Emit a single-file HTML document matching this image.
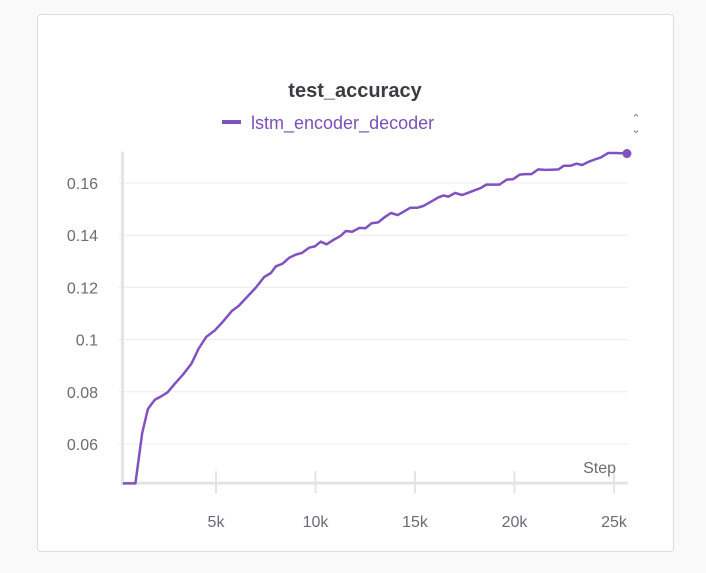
<!DOCTYPE html>
<html><head><meta charset="utf-8"><style>
body{margin:0;background:#f9f9fa;width:706px;height:573px;overflow:hidden;font-family:"Liberation Sans",sans-serif}
#card{position:absolute;left:37px;top:14px;width:635px;height:536px;background:#fff;border:1px solid #dcdce0;border-radius:4px}
svg{position:absolute;left:0;top:0}
</style></head><body>
<div id="card"></div>
<svg id="chart" width="706" height="573">
<text x="355" y="97" text-anchor="middle" font-size="20" font-weight="bold" fill="#3b3b42">test_accuracy</text>
<g>
<line x1="222" y1="122" x2="241" y2="122" stroke="#8052c0" stroke-width="4"/>
<text x="251" y="129" font-size="18" fill="#7e4fb8">lstm_encoder_decoder</text>
</g>
<text x="636" y="122" text-anchor="middle" font-size="11" fill="#777">⌃</text>
<text x="636" y="133" text-anchor="middle" font-size="11" fill="#777" transform="rotate(180 636 129)">⌃</text>
<g id="grid"></g><g id="axes"></g><g id="series"></g>
<text x="616" y="473" text-anchor="end" font-size="16" fill="#6b6b76">Step</text>
</svg>
<script>
const steps=[320,950,1290,1580,1920,2230,2570,2910,3330,3760,4130,4520,4950,5370,5800,6140,6570,6990,7420,7760,8010,8350,8690,9030,9320,9680,9970,10260,10560,10900,11240,11530,11840,12210,12520,12820,13150,13490,13790,14130,14470,14760,15100,15410,15750,16170,16430,16680,17020,17360,17620,17960,18300,18590,18900,19240,19610,19920,20260,20560,20850,21190,21530,21870,22210,22470,22810,23110,23400,23690,24030,24340,24710,25100,25650];
const accuracy=[0.0449,0.0449,0.0642,0.0734,0.0769,0.0782,0.0798,0.0829,0.0865,0.0907,0.0966,0.1011,0.1036,0.1071,0.1110,0.1129,0.1164,0.1198,0.1240,0.1255,0.1281,0.1291,0.1314,0.1326,0.1332,0.1352,0.1357,0.1375,0.1365,0.1382,0.1396,0.1416,0.1413,0.1428,0.1427,0.1446,0.1449,0.1470,0.1485,0.1477,0.1492,0.1505,0.1505,0.1512,0.1526,0.1545,0.1552,0.1548,0.1562,0.1554,0.1561,0.1571,0.1581,0.1594,0.1594,0.1594,0.1613,0.1614,0.1632,0.1634,0.1634,0.1652,0.1650,0.1651,0.1652,0.1666,0.1666,0.1674,0.1669,0.1680,0.1690,0.1698,0.1715,0.1715,0.1713];
const yTicks=[0.06,0.08,0.1,0.12,0.14,0.16];
const yTickLabels=["0.06","0.08","0.1","0.12","0.14","0.16"];
const xTicks=[5000,10000,15000,20000,25000];
const xTickLabels=["5k","10k","15k","20k","25k"];
const yMin=0.045,yMax=0.172,xMin=300,xMax=25700;
const X=s=>216+(s-5000)*0.0199;
const Y=v=>183+(0.16-v)*2610;
const NS="http://www.w3.org/2000/svg";
function mk(tag,attrs,parent){const e=document.createElementNS(NS,tag);for(const k in attrs)e.setAttribute(k,attrs[k]);document.getElementById(parent).appendChild(e);return e;}
const x0=X(xMin),x1=X(xMax),yb=Y(yMin),yt=Y(yMax);
yTicks.forEach((t,i)=>{
  const g=mk('line',{x1:x0-4,x2:x1,y1:Y(t),y2:Y(t),stroke:'#ececef','stroke-width':1},'grid');
  
  
  const tl=mk('text',{x:98,y:Y(t)+6,'text-anchor':'end','font-size':16,fill:'#6b6b76'},'axes');
  tl.textContent=yTickLabels[i];
  
  
});
xTicks.forEach((t,i)=>{
  const tk=mk('line',{x1:X(t),x2:X(t),y1:yb-12,y2:yb+10,stroke:'#e4e4e8','stroke-width':2},'axes');
  
  
  const tl=mk('text',{x:X(t),y:527,'text-anchor':'middle','font-size':16,fill:'#6b6b76'},'axes');
  tl.textContent=xTickLabels[i];
  
  
});
const ya=mk('line',{x1:x0,x2:x0,y1:yt,y2:yb+2,stroke:'#e4e4e8','stroke-width':3},'axes');


const xa=mk('line',{x1:x0,x2:x1,y1:yb,y2:yb,stroke:'#e4e4e8','stroke-width':3},'axes');


const d=steps.map((s,i)=>(i?'L':'M')+X(s).toFixed(1)+','+Y(accuracy[i]).toFixed(1)).join(' ');
const p=mk('path',{d:d,fill:'none',stroke:'#8052c0','stroke-width':2.5,'stroke-linejoin':'round'},'series');


const n=steps.length-1;
const c=mk('circle',{cx:X(steps[n]),cy:Y(accuracy[n]),r:4.5,fill:'#8052c0'},'series');


</script>
</body></html>
